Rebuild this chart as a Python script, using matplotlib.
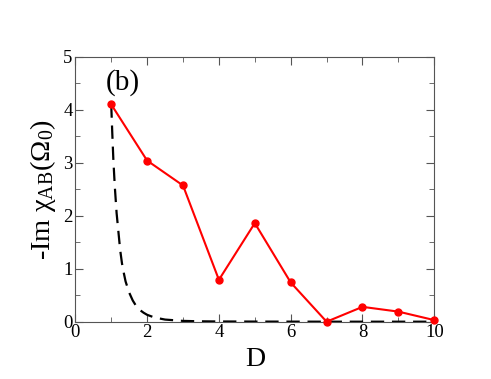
import matplotlib
matplotlib.use("Agg")
import matplotlib.pyplot as plt
from matplotlib.ticker import MultipleLocator

# red points: -Im chi_AB at each separation D
D = [1, 2, 3, 4, 5, 6, 7, 8, 9, 10]
chi = [4.10, 3.04, 2.57, 0.79, 1.86, 0.74, 0.0, 0.28, 0.19, 0.03]

# dashed reference curve
D_ref = [1.0, 1.03, 1.06, 1.1, 1.15, 1.2, 1.25, 1.3, 1.35, 1.4, 1.5, 1.6, 1.7, 1.8,
         1.9, 2.0, 2.2, 2.5, 3.0, 3.5, 4.0, 5.0, 6.0, 7.0, 8.0, 9.0, 10.0]
chi_ref = [4.10, 3.55, 3.05, 2.55, 2.05, 1.70, 1.35, 1.10, 0.92, 0.76, 0.55, 0.40,
           0.29, 0.22, 0.17, 0.13, 0.08, 0.04, 0.015, 0.007, 0.004, 0.002, 0.001,
           0.0, 0.0, 0.0, 0.0]

plt.rcParams.update({
    "font.family": "serif",
    "font.serif": ["Liberation Serif", "DejaVu Serif"],
    "mathtext.fontset": "custom",
    "mathtext.rm": "Liberation Serif",
    "mathtext.it": "Liberation Serif",
    "axes.edgecolor": "#555555",
})

fig = plt.figure(figsize=(4.91, 3.79), dpi=100)
ax = fig.add_axes([0.1534, 0.1512, 0.7311, 0.6992])

ax.plot(D_ref, chi_ref, "--", color="black", lw=1.6, dashes=(6, 3.5), zorder=2)
ax.plot(D, chi, "-o", color="red", lw=1.5, ms=5, zorder=3, clip_on=False)

ax.set_xlim(0, 10)
ax.set_ylim(0, 5)
ax.xaxis.set_major_locator(MultipleLocator(2))
ax.xaxis.set_minor_locator(MultipleLocator(1))
ax.yaxis.set_major_locator(MultipleLocator(1))
ax.yaxis.set_minor_locator(MultipleLocator(0.5))
ax.tick_params(which="both", direction="in", top=True, right=True,
               color="#555555", labelsize=13.5, pad=2)
ax.tick_params(which="major", length=6)
ax.tick_params(which="minor", length=3.5)

ax.set_xlabel("D", fontsize=20, labelpad=4)
ax.set_ylabel(r"-Im $\chi_{\rm AB}(\Omega_0)$", fontsize=20.5, labelpad=4)
ax.text(0.85, 4.38, "(b)", fontsize=21)

fig.savefig("out.png", dpi=100)
